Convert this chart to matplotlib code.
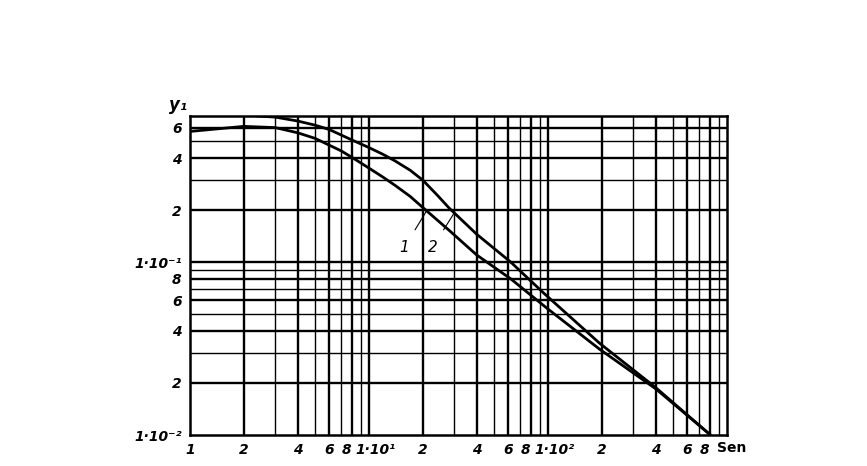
import matplotlib
matplotlib.use("Agg")
import matplotlib.pyplot as plt
import matplotlib.transforms as mtransforms
from matplotlib.ticker import FixedLocator, NullFormatter

# curve 1 (lower) and curve 2 (upper)
x1 = [1, 2, 3, 4, 5, 6, 7, 8, 9, 10, 12, 14, 17, 20, 28, 40, 62, 99, 194, 400, 800]
y1 = [0.57, 0.61, 0.6, 0.56, 0.52, 0.475, 0.44, 0.405, 0.375, 0.35, 0.31,
      0.278, 0.24, 0.207, 0.153, 0.11, 0.08, 0.054, 0.0314, 0.0185, 0.0101]
x2 = [2.4, 3, 4, 5, 6, 8, 10, 12, 14, 17, 20, 24, 28, 40, 62, 95, 194, 400, 800]
y2 = [0.7, 0.69, 0.655, 0.62, 0.585, 0.51, 0.46, 0.42, 0.385, 0.34, 0.298,
      0.245, 0.206, 0.145, 0.1, 0.066, 0.034, 0.0188, 0.0101]

xticks = [1, 2, 4, 6, 8, 10, 20, 40, 60, 80, 100, 200, 400, 600, 800]
xlabels = ["1", "2", "4", "6", "8", "1·10¹", "2", "4", "6", "8", "1·10²",
           "2", "4", "6", "8"]
yticks = [0.01, 0.02, 0.04, 0.06, 0.08, 0.1, 0.2, 0.4, 0.6]
ylabels = ["1·10⁻²", "2", "4", "6", "8", "1·10⁻¹", "2", "4", "6"]

fig = plt.figure(figsize=(8.67, 4.66), dpi=100)
ax = fig.add_axes([0.219, 0.0665, 0.6195, 0.6845])
ax.set_xscale("log")
ax.set_yscale("log")
ax.set_xlim(1, 1000)
ax.set_ylim(0.01, 0.7)

# grid lines at every integer multiple of each decade
for dec in [1, 10, 100]:
    for k in range(2, 11):
        v = k * dec
        if v < 1000:
            lw = 1.0 if k in (3, 5, 7, 9) else 1.7
            ax.axvline(v, color="black", lw=lw, zorder=1)
for dec in [0.01, 0.1]:
    for k in range(2, 11):
        v = k * dec
        if v < 0.7:
            lw = 1.0 if k in (3, 5, 7, 9) else 1.7
            ax.axhline(v, color="black", lw=lw, zorder=1)

ax.plot(x1, y1, color="black", lw=2.0, zorder=3)
ax.plot(x2, y2, color="black", lw=2.0, zorder=3)

ax.annotate("1", xy=(21, 0.198), xytext=(15.8, 0.122), fontsize=11,
            fontstyle="italic", ha="center", va="center",
            arrowprops=dict(arrowstyle="-", lw=0.8, color="black", shrinkA=6, shrinkB=0))
ax.annotate("2", xy=(30, 0.193), xytext=(22.7, 0.122), fontsize=11,
            fontstyle="italic", ha="center", va="center",
            arrowprops=dict(arrowstyle="-", lw=0.8, color="black", shrinkA=6, shrinkB=0))

ax.xaxis.set_major_locator(FixedLocator(xticks))
ax.xaxis.set_minor_formatter(NullFormatter())
ax.set_xticklabels(xlabels)
ax.yaxis.set_major_locator(FixedLocator(yticks))
ax.yaxis.set_minor_formatter(NullFormatter())
ax.set_yticklabels(ylabels)
ax.tick_params(which="both", length=0, labelsize=10, pad=6)
for lab in ax.get_xticklabels() + ax.get_yticklabels():
    lab.set_fontstyle("italic")
    lab.set_fontweight("bold")

# nudge the crowded "8" / "1·10ⁿ" labels apart
for lab in ax.get_xticklabels():
    t = lab.get_text()
    if t.startswith("1·10"):
        dx = 5 / 72
    elif t == "8":
        dx = -4 / 72
    else:
        continue
    lab.set_transform(lab.get_transform() +
                      mtransforms.ScaledTranslation(dx, 0, fig.dpi_scale_trans))

ax.text(875, -0.018, "Sen", transform=ax.get_xaxis_transform(), ha="left",
        va="top", fontsize=10, fontweight="bold")
ax.text(-0.022, 1.005, "y₁", transform=ax.transAxes, ha="center", va="bottom",
        fontsize=12, fontstyle="italic", fontweight="bold")

for s in ax.spines.values():
    s.set_linewidth(1.8)

fig.savefig("out.png", dpi=100)
